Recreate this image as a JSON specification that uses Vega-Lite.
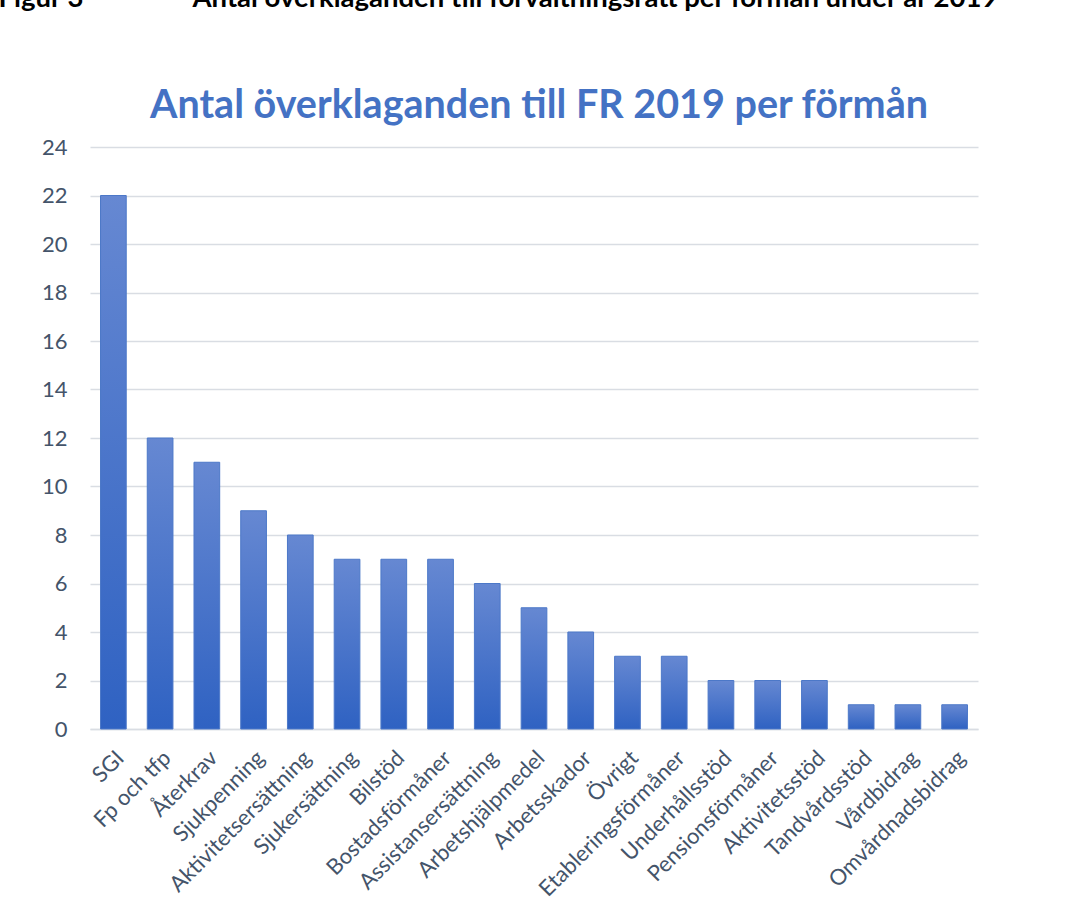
{
  "$schema": "https://vega.github.io/schema/vega-lite/v6.json",
  "autosize": "none",
  "width": 888,
  "height": 582,
  "padding": {"left": 90, "top": 147, "right": 92, "bottom": 173},
  "background": "white",
  "title": {
    "text": "Antal överklaganden till FR 2019 per förmån",
    "font": "Lato",
    "fontSize": 39.5,
    "fontWeight": "bold",
    "color": "#4472C4",
    "anchor": "middle",
    "offset": -142,
    "dx": 5
  },
  "data": {
    "values": [
      {"formån": "SGI", "antal": 22},
      {"formån": "Fp och tfp", "antal": 12},
      {"formån": "Återkrav", "antal": 11},
      {"formån": "Sjukpenning", "antal": 9},
      {"formån": "Aktivitetsersättning", "antal": 8},
      {"formån": "Sjukersättning", "antal": 7},
      {"formån": "Bilstöd", "antal": 7},
      {"formån": "Bostadsförmåner", "antal": 7},
      {"formån": "Assistansersättning", "antal": 6},
      {"formån": "Arbetshjälpmedel", "antal": 5},
      {"formån": "Arbetsskador", "antal": 4},
      {"formån": "Övrigt", "antal": 3},
      {"formån": "Etableringsförmåner", "antal": 3},
      {"formån": "Underhållsstöd", "antal": 2},
      {"formån": "Pensionsförmåner", "antal": 2},
      {"formån": "Aktivitetsstöd", "antal": 2},
      {"formån": "Tandvårdsstöd", "antal": 1},
      {"formån": "Vårdbidrag", "antal": 1},
      {"formån": "Omvårdnadsbidrag", "antal": 1}
    ]
  },
  "mark": {
    "type": "bar",
    "color": {
      "gradient": "linear",
      "x1": 0, "y1": 0, "x2": 0, "y2": 1,
      "stops": [
        {"offset": 0, "color": "#6688D2"},
        {"offset": 1, "color": "#2F62C2"}
      ]
    },
    "stroke": "#4C78C8",
    "strokeWidth": 1
  },
  "encoding": {
    "x": {
      "field": "formån",
      "type": "nominal",
      "sort": null,
      "scale": {"paddingInner": 0.45, "paddingOuter": 0.225},
      "axis": {
        "title": "Antal överklaganden till förvaltningsrätt per förmån under år 2019",
        "titleFont": "Lato",
        "titleFontSize": 27.5,
        "titleFontWeight": "bold",
        "titleColor": "#000000",
        "titleAngle": 0,
        "titleAlign": "left",
        "titleBaseline": "alphabetic",
        "titleX": 102,
        "titleY": -723,
        "labelAngle": -45,
        "labelFont": "Lato",
        "labelFontSize": 22,
        "labelLimit": 400,
        "labelColor": "#44546A",
        "labelPadding": 18,
        "ticks": false,
        "domainColor": "#D9DDE3",
        "domainWidth": 1.5,
        "grid": false
      }
    },
    "y": {
      "field": "antal",
      "type": "quantitative",
      "scale": {"domain": [0, 24], "nice": false},
      "axis": {
        "values": [0, 2, 4, 6, 8, 10, 12, 14, 16, 18, 20, 22, 24],
        "title": "Figur 3",
        "titleFont": "Lato",
        "titleFontSize": 27.5,
        "titleFontWeight": "bold",
        "titleColor": "#000000",
        "titleAngle": 0,
        "titleAlign": "left",
        "titleBaseline": "alphabetic",
        "titleX": -92,
        "titleY": -141,
        "labelFont": "Lato",
        "labelFontSize": 22,
        "labelColor": "#44546A",
        "labelPadding": 23,
        "ticks": false,
        "domain": false,
        "grid": true,
        "gridColor": "#D9DDE3",
        "gridWidth": 1.5
      }
    }
  },
  "config": {
    "view": {"stroke": null}
  }
}
